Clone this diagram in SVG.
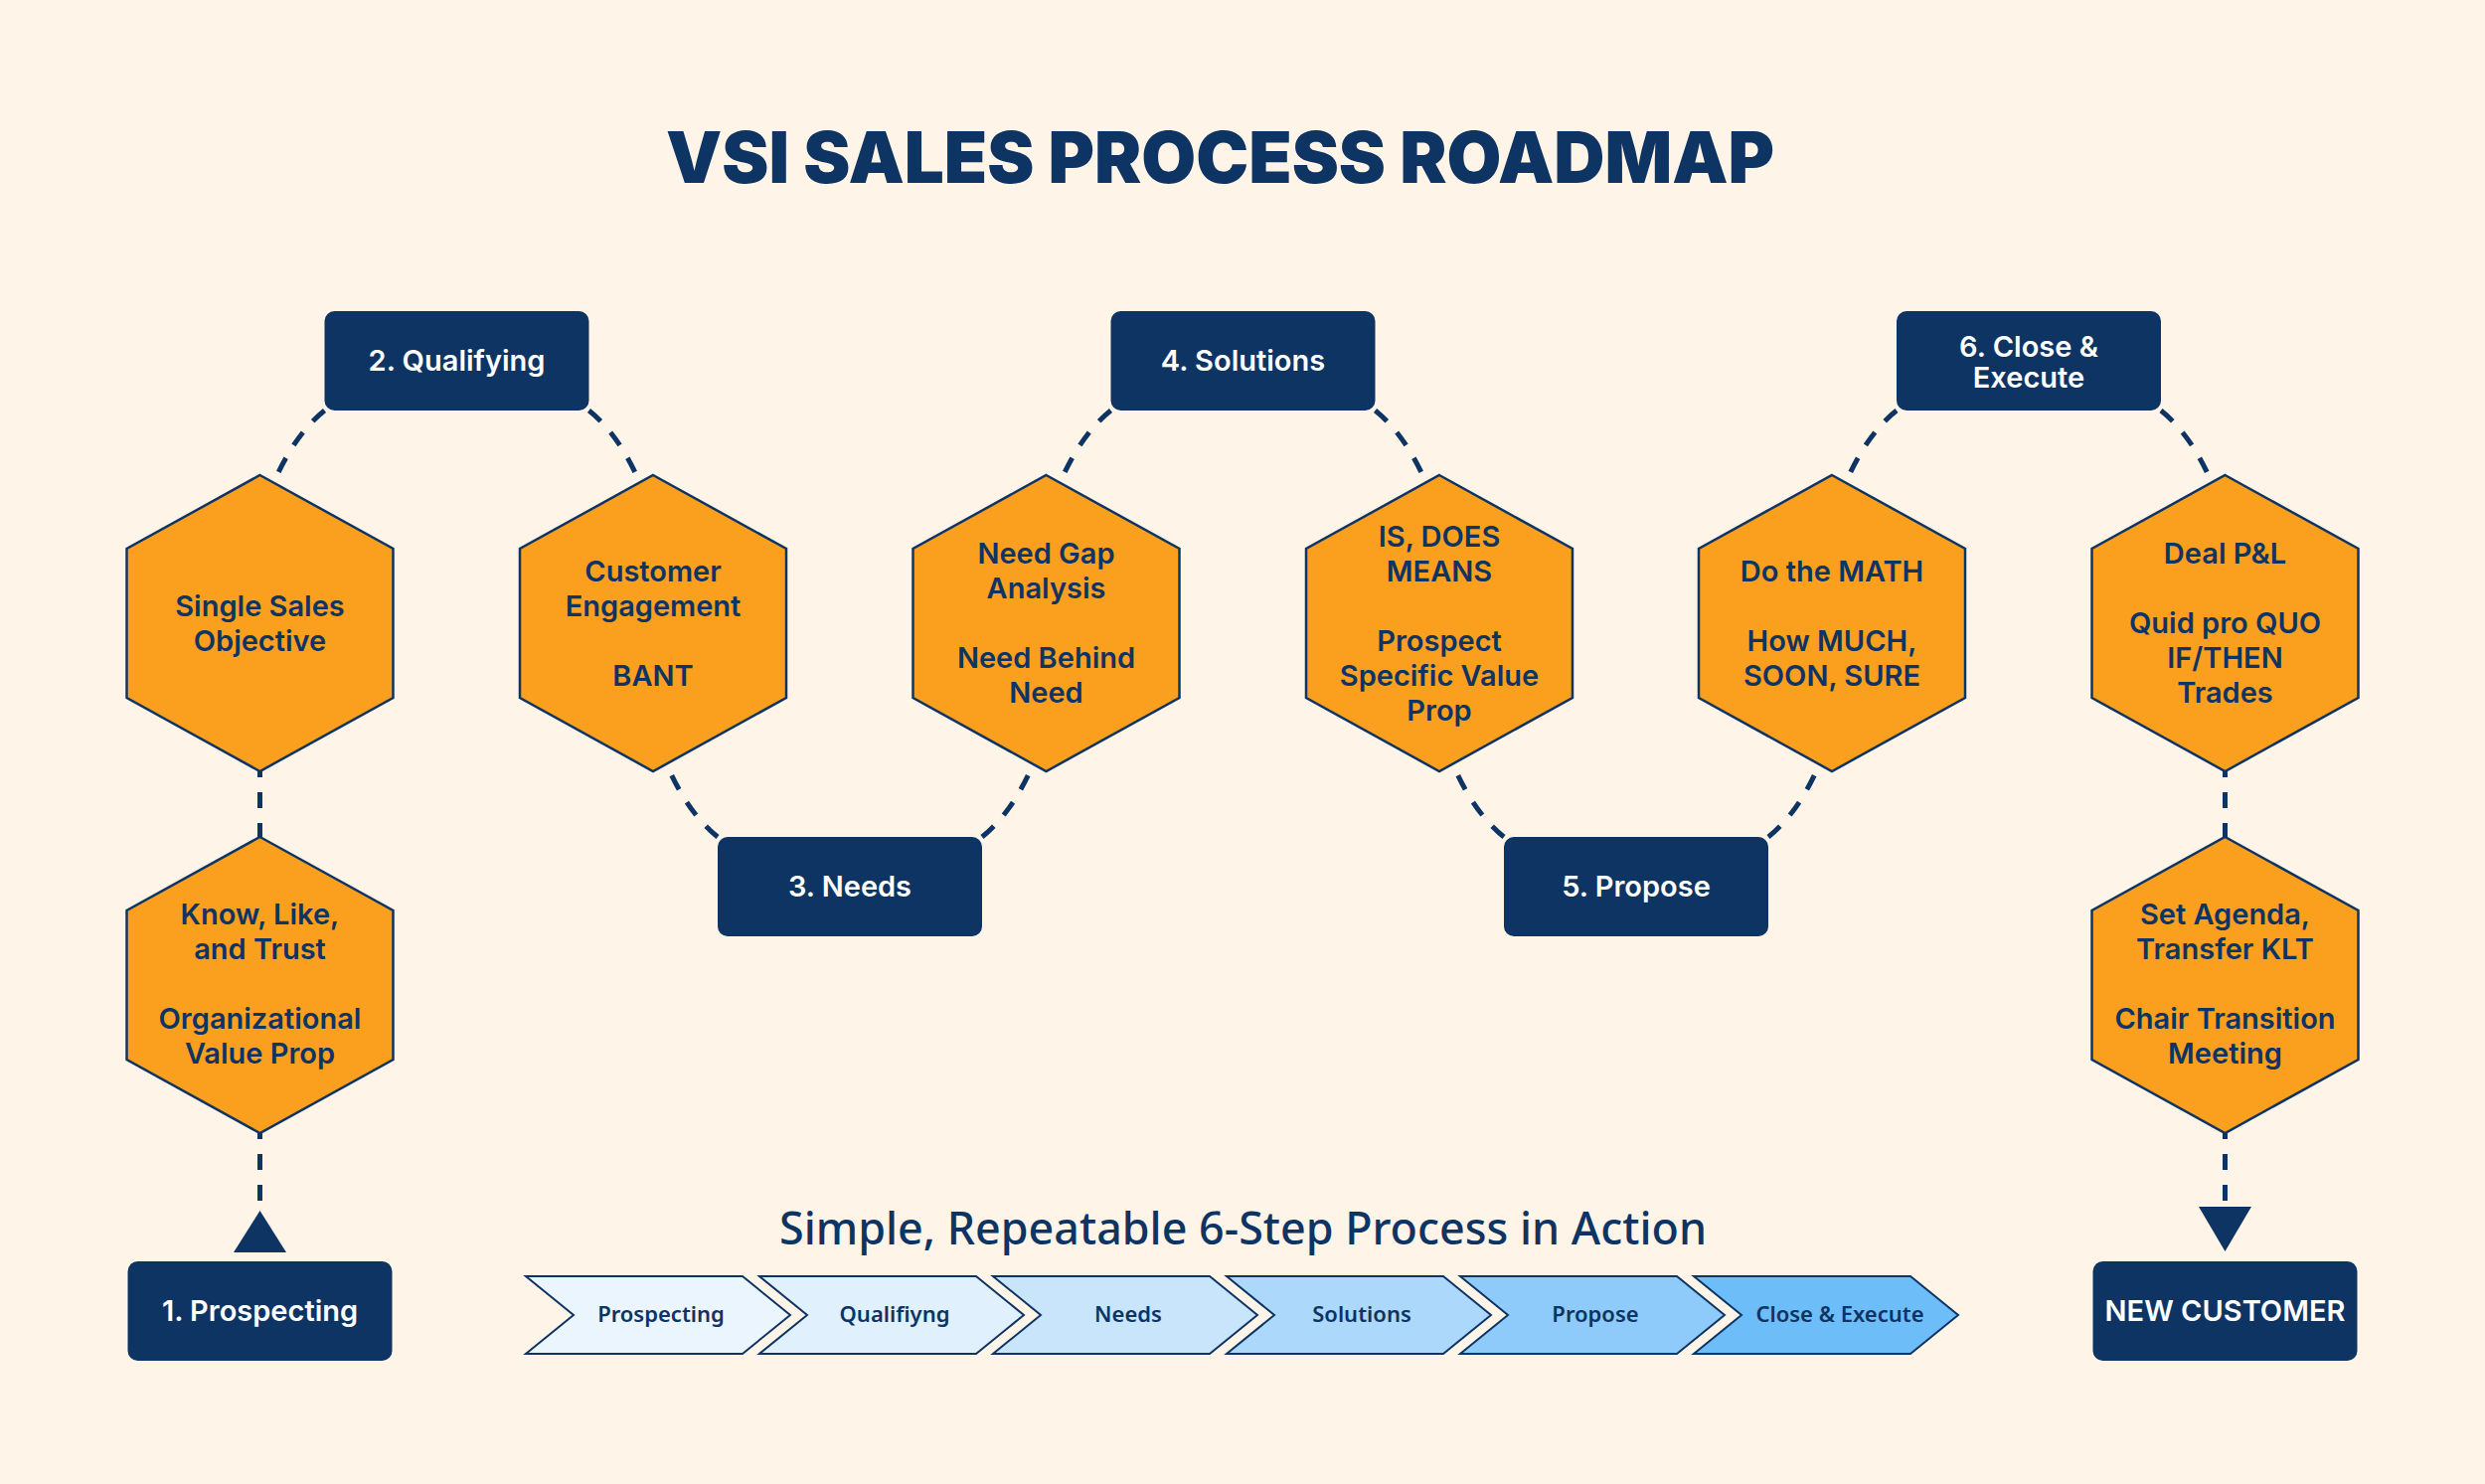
<svg xmlns="http://www.w3.org/2000/svg" xmlns:xlink="http://www.w3.org/1999/xlink" width="2500" height="1493" viewBox="0 0 2500 1493">
<style>
.hex{fill:#FA9F1E;stroke:#0E3464;stroke-width:2.5}
.ht{font-family:Inter,"Noto Sans","Liberation Sans",sans-serif;font-weight:600;font-size:29px;fill:#0E3464;text-anchor:middle}
.box{fill:#0E3464}
.bt{font-family:Inter,"Noto Sans","Liberation Sans",sans-serif;font-weight:600;font-size:29px;fill:#FFFFFF;text-anchor:middle}
.con{fill:none;stroke:#0E3464;stroke-width:5;stroke-dasharray:16 15}
.chev{stroke:#0E3464;stroke-width:2}
.ct{font-family:"Noto Sans","Liberation Sans",sans-serif;font-weight:600;font-size:22px;fill:#0E3464;text-anchor:middle}
</style>
<defs>
<polygon id="hex" points="0,0 134,74 134,224 0,298 -134,224 -134,74"/>
<path id="chev" d="M0,0 L218,0 L266,39 L218,78 L0,78 L48,39 Z"/>
</defs>
<rect x="0" y="0" width="2500" height="1493" fill="#FEF4E8"/>
<text x="1227.5" y="184" font-family="Inter,'Liberation Sans',sans-serif" font-weight="900" font-size="72" fill="#0E3464" text-anchor="middle" textLength="1115" lengthAdjust="spacingAndGlyphs">VSI SALES PROCESS ROADMAP</text>

<g id="connectors">
<path class="con" d="M326.5,413 Q292.5,440 269.5,500"/>
<path class="con" d="M592.5,413 Q626.5,440 649.5,500"/>
<path class="con" d="M1117.5,413 Q1083.5,440 1060.5,500"/>
<path class="con" d="M1383.5,413 Q1417.5,440 1440.5,500"/>
<path class="con" d="M1908,413 Q1874,440 1851,500"/>
<path class="con" d="M2174,413 Q2208,440 2231,500"/>
<path class="con" d="M722,842 Q688,815 665,755"/>
<path class="con" d="M988,842 Q1022,815 1045,755"/>
<path class="con" d="M1513,842 Q1479,815 1456,755"/>
<path class="con" d="M1779,842 Q1813,815 1836,755"/>
<path class="con" d="M261.5,766 V842"/>
<path class="con" d="M261.5,1130 V1222"/>
<path class="con" d="M2238.5,766 V842"/>
<path class="con" d="M2238.5,1130 V1216"/>
<polygon points="261.5,1218 288,1260 235,1260" fill="#0E3464"/>
<polygon points="2212,1214 2265,1214 2238.5,1259" fill="#0E3464"/>
</g>

<g id="hex-single-sales">
<use href="#hex" class="hex" x="261.5" y="478"/>
<text class="ht" x="261.5"><tspan x="261.5" y="620">Single Sales</tspan><tspan x="261.5" y="655">Objective</tspan></text>
</g>
<g id="hex-customer-engagement">
<use href="#hex" class="hex" x="657" y="478"/>
<text class="ht"><tspan x="657" y="585">Customer</tspan><tspan x="657" y="620">Engagement</tspan><tspan x="657" y="690">BANT</tspan></text>
</g>
<g id="hex-need-gap">
<use href="#hex" class="hex" x="1052.5" y="478"/>
<text class="ht"><tspan x="1052.5" y="567">Need Gap</tspan><tspan x="1052.5" y="602">Analysis</tspan><tspan x="1052.5" y="672">Need Behind</tspan><tspan x="1052.5" y="707">Need</tspan></text>
</g>
<g id="hex-is-does">
<use href="#hex" class="hex" x="1448" y="478"/>
<text class="ht"><tspan x="1448" y="550">IS, DOES</tspan><tspan x="1448" y="585">MEANS</tspan><tspan x="1448" y="655">Prospect</tspan><tspan x="1448" y="690">Specific Value</tspan><tspan x="1448" y="725">Prop</tspan></text>
</g>
<g id="hex-math">
<use href="#hex" class="hex" x="1843" y="478"/>
<text class="ht"><tspan x="1843" y="585">Do the MATH</tspan><tspan x="1843" y="655">How MUCH,</tspan><tspan x="1843" y="690">SOON, SURE</tspan></text>
</g>
<g id="hex-deal">
<use href="#hex" class="hex" x="2238.5" y="478"/>
<text class="ht"><tspan x="2238.5" y="567">Deal P&amp;L</tspan><tspan x="2238.5" y="637">Quid pro QUO</tspan><tspan x="2238.5" y="672">IF/THEN</tspan><tspan x="2238.5" y="707">Trades</tspan></text>
</g>
<g id="hex-know-like">
<use href="#hex" class="hex" x="261.5" y="842"/>
<text class="ht"><tspan x="261.5" y="930">Know, Like,</tspan><tspan x="261.5" y="965">and Trust</tspan><tspan x="261.5" y="1035">Organizational</tspan><tspan x="261.5" y="1070">Value Prop</tspan></text>
</g>
<g id="hex-set-agenda">
<use href="#hex" class="hex" x="2238.5" y="842"/>
<text class="ht"><tspan x="2238.5" y="930">Set Agenda,</tspan><tspan x="2238.5" y="965">Transfer KLT</tspan><tspan x="2238.5" y="1035">Chair Transition</tspan><tspan x="2238.5" y="1070">Meeting</tspan></text>
</g>

<g id="box-qualifying">
<rect class="box" x="326.5" y="313" width="266" height="100" rx="10"/>
<text class="bt" x="459.5" y="373">2. Qualifying</text>
</g>
<g id="box-solutions">
<rect class="box" x="1117.5" y="313" width="266" height="100" rx="10"/>
<text class="bt" x="1250.5" y="373">4. Solutions</text>
</g>
<g id="box-close">
<rect class="box" x="1908" y="313" width="266" height="100" rx="10"/>
<text class="bt"><tspan x="2041" y="359">6. Close &amp;</tspan><tspan x="2041" y="390">Execute</tspan></text>
</g>
<g id="box-needs">
<rect class="box" x="722" y="842" width="266" height="100" rx="10"/>
<text class="bt" x="855" y="902">3. Needs</text>
</g>
<g id="box-propose">
<rect class="box" x="1513" y="842" width="266" height="100" rx="10"/>
<text class="bt" x="1646" y="902">5. Propose</text>
</g>
<g id="box-prospecting">
<rect class="box" x="128.5" y="1269" width="266" height="100" rx="10"/>
<text class="bt" x="261.5" y="1329">1. Prospecting</text>
</g>
<g id="box-new-customer">
<rect class="box" x="2105.5" y="1269" width="266" height="100" rx="10"/>
<text class="bt" x="2238.5" y="1329">NEW CUSTOMER</text>
</g>

<text x="1250.5" y="1252" font-family="'Noto Sans','Liberation Sans',sans-serif" font-weight="500" font-size="46" fill="#0E3464" text-anchor="middle" textLength="933" lengthAdjust="spacingAndGlyphs">Simple, Repeatable 6-Step Process in Action</text>

<g id="steps">
<use href="#chev" class="chev" x="529" y="1284" fill="#EAF5FE"/>
<use href="#chev" class="chev" x="764" y="1284" fill="#E0F0FD"/>
<use href="#chev" class="chev" x="999" y="1284" fill="#C8E5FB"/>
<use href="#chev" class="chev" x="1234" y="1284" fill="#ABD8FB"/>
<use href="#chev" class="chev" x="1469" y="1284" fill="#8ECBFA"/>
<use href="#chev" class="chev" x="1704" y="1284" fill="#6CBDF8"/>
<text class="ct" x="665" y="1330">Prospecting</text>
<text class="ct" x="900" y="1330">Qualifiyng</text>
<text class="ct" x="1135" y="1330">Needs</text>
<text class="ct" x="1370" y="1330">Solutions</text>
<text class="ct" x="1605" y="1330">Propose</text>
<text class="ct" x="1851" y="1330">Close &amp; Execute</text>
</g>
</svg>
